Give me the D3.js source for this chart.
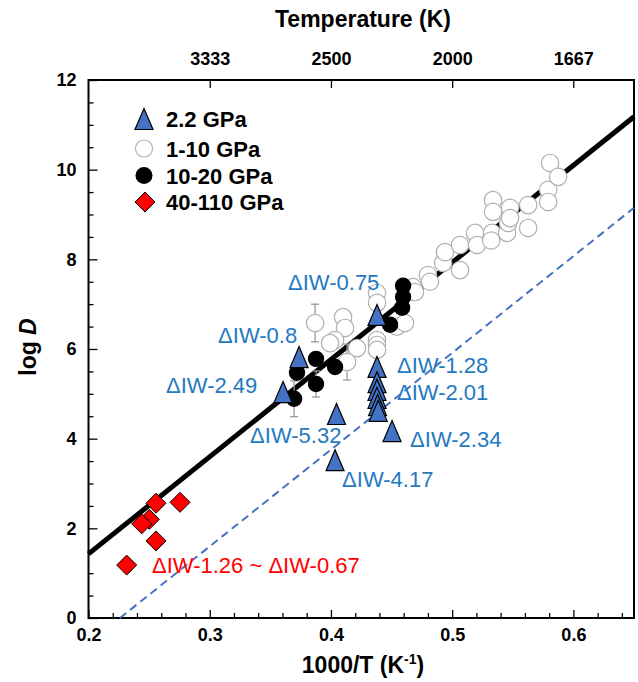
<!DOCTYPE html>
<html><head><meta charset="utf-8">
<script src="https://cdn.jsdelivr.net/npm/d3@7"></script>
<style>
body{margin:0;background:#fff}
svg{display:block}
text{font-family:Arial,"Liberation Sans",sans-serif}
</style>
</head><body>
<svg id="c" width="638" height="682"></svg>
<script>
// ---------- data ----------
const xTicks = [0.2, 0.3, 0.4, 0.5, 0.6];
const xTickLabels = ["0.2", "0.3", "0.4", "0.5", "0.6"];
const yTicks = [0, 2, 4, 6, 8, 10, 12];
const tempTicks = [3333, 2500, 2000, 1667];

// 40-110 GPa (red diamonds)
const redX = [0.2315, 0.2502, 0.2439, 0.2557, 0.2557, 0.2755];
const redY = [1.18, 2.20, 2.10, 2.56, 1.72, 2.58];

// 2.2 GPa (blue triangles)
const triX = [0.3605, 0.3737, 0.4046, 0.4034, 0.4380, 0.4380, 0.4380, 0.4380, 0.4380, 0.4385, 0.4390, 0.4504];
const triY = [5.04, 5.82, 4.55, 3.52, 6.76, 5.60, 5.26, 5.09, 4.91, 4.75, 4.62, 4.17];

// 10-20 GPa (black circles)
const blackX = [0.3696, 0.3720, 0.3877, 0.3877, 0.4034, 0.4488, 0.4587, 0.4595, 0.4595];
const blackY = [4.89, 5.47, 5.78, 5.22, 5.60, 6.54, 6.92, 7.16, 7.41];
const blackErr = [0.40, 0, 0, 0.29, 0, 0, 0, 0, 0];

// 1-10 GPa (open circles)
const openX = [0.3869, 0.4100, 0.4116, 0.4034, 0.4215, 0.4133, 0.3993,
  0.4380, 0.4380, 0.4380, 0.4380, 0.4380,
  0.4543, 0.4611, 0.4677, 0.4693, 0.4800, 0.4817, 0.4925, 0.4941,
  0.5065, 0.5065, 0.5189, 0.5205, 0.5329, 0.5322, 0.5453, 0.5461,
  0.5337, 0.5337, 0.5478, 0.5478, 0.5627, 0.5627, 0.5792, 0.5792, 0.5808, 0.5874];
const openY = [6.58, 6.71, 6.47, 6.20, 6.02, 5.71, 6.13,
  7.25, 7.03, 6.20, 6.09, 5.98,
  6.50, 6.58, 7.38, 7.27, 7.65, 7.50, 7.92, 8.16,
  8.32, 7.76, 8.59, 8.32, 8.59, 8.42, 8.59, 8.81,
  9.32, 9.06, 9.15, 8.92, 9.21, 8.70, 9.55, 9.28, 10.15, 9.84];
const openErr = [0.42, 0, 0, 0, 0, 0.40, 0,
  0, 0, 0, 0, 0,
  0, 0, 0, 0, 0, 0, 0, 0,
  0, 0, 0, 0, 0, 0, 0, 0,
  0, 0, 0, 0, 0, 0, 0, 0, 0, 0];

// fit lines (endpoints in data units)
const fitX = [0.2, 0.65], fitY = [1.43, 11.18];
const dashX = [0.226, 0.65], dashY = [0, 9.15];

// annotations: text, data x (start), data y (baseline)
const annText = ["ΔIW-0.75", "ΔIW-0.8", "ΔIW-2.49", "ΔIW-5.32", "ΔIW-4.17", "ΔIW-1.28", "ΔIW-2.01", "ΔIW-2.34"];
const annX = [0.3646, 0.3069, 0.2639, 0.3333, 0.4092, 0.4545, 0.4545, 0.4653];
const annY = [7.32, 6.13, 5.02, 3.90, 2.92, 5.47, 4.86, 3.81];
const redAnnText = "ΔIW-1.26 ~ ΔIW-0.67";
const redAnnX = 0.2524, redAnnY = 1.00;

const legendLabels = ["2.2 GPa", "1-10 GPa", "10-20 GPa", "40-110 GPa"];

// ---------- drawing ----------
const svg = d3.select("#c");
svg.append("rect").attr("width", 638).attr("height", 682).attr("fill", "#fff");

const L = 88.5, R = 634, T = 80, B = 618;
const x = d3.scaleLinear().domain([0.2, 0.65]).range([L, R]);
const y = d3.scaleLinear().domain([0, 12]).range([B, T]);

const BLUE = "#4472C4", LBLUE = "#2479C2";

// minor ticks
const xMinor = d3.range(0.2, 0.6501, 0.02).filter(v => Math.abs(v * 10 - Math.round(v * 10)) > 1e-6);
const yMinor = d3.range(0, 12.001, 0.5).filter(v => Math.abs(v / 2 - Math.round(v / 2)) > 1e-6);

svg.append("g").attr("transform", `translate(0,${B})`)
  .call(d3.axisBottom(x).tickValues(xTicks).tickFormat((d, i) => xTickLabels[i]).tickSize(-8).tickPadding(10));
svg.append("g").attr("transform", `translate(0,${B})`)
  .call(d3.axisBottom(x).tickValues(xMinor).tickFormat("").tickSize(-5));
svg.append("g").attr("transform", `translate(${L},0)`)
  .call(d3.axisLeft(y).tickValues(yTicks).tickFormat(d3.format("d")).tickSize(-9).tickPadding(12));
svg.append("g").attr("transform", `translate(${L},0)`)
  .call(d3.axisLeft(y).tickValues(yMinor).tickFormat("").tickSize(-5));
svg.append("g").attr("transform", `translate(0,${T})`)
  .call(d3.axisTop(x).tickValues(tempTicks.map(t => 1000 / t)).tickFormat((d, i) => String(tempTicks[i])).tickSize(-8).tickPadding(15));

svg.selectAll(".domain").remove();
svg.selectAll(".tick line").attr("stroke", "#000").attr("stroke-width", 1.3);
svg.selectAll(".tick text").attr("fill", "#000").style("font-size", "18px").style("font-weight", "bold")
  .style("font-family", 'Arial,"Liberation Sans",sans-serif');

// frame
svg.append("rect").attr("x", L).attr("y", T).attr("width", R - L).attr("height", B - T)
  .attr("fill", "none").attr("stroke", "#000").attr("stroke-width", 2);

// axis titles
svg.append("text").attr("x", 363).attr("y", 27).attr("text-anchor", "middle")
  .style("font-size", "23px").style("font-weight", "bold").text("Temperature (K)");
const xt = svg.append("text").attr("x", 363).attr("y", 673).attr("text-anchor", "middle")
  .style("font-size", "23px").style("font-weight", "bold");
xt.append("tspan").text("1000/T (K");
xt.append("tspan").attr("dy", -9).style("font-size", "14px").text("-1");
xt.append("tspan").attr("dy", 9).text(")");
const yt = svg.append("text").attr("transform", "translate(36,347) rotate(-90)").attr("text-anchor", "middle")
  .style("font-size", "23px").style("font-weight", "bold");
yt.append("tspan").text("log ");
yt.append("tspan").style("font-style", "italic").text("D");

// lines
const plot = svg.append("g");
const line = d3.line().x(d => x(d[0])).y(d => y(d[1]));
plot.append("path").attr("d", line(dashX.map((v, i) => [v, dashY[i]])))
  .attr("stroke", BLUE).attr("stroke-width", 2).attr("stroke-dasharray", "8,5").attr("fill", "none");
plot.append("path").attr("d", line(fitX.map((v, i) => [v, fitY[i]])))
  .attr("stroke", "#000").attr("stroke-width", 5).attr("fill", "none");

function errBars(xs, ys, es) {
  xs.forEach((xv, i) => {
    if (!es[i]) return;
    const cx = x(xv), y1 = y(ys[i] + es[i]), y2 = y(ys[i] - es[i]);
    plot.append("line").attr("x1", cx).attr("x2", cx).attr("y1", y1).attr("y2", y2).attr("stroke", "#999").attr("stroke-width", 1.3);
    [y1, y2].forEach(yy => plot.append("line").attr("x1", cx - 4).attr("x2", cx + 4).attr("y1", yy).attr("y2", yy).attr("stroke", "#999").attr("stroke-width", 1.3));
  });
}
errBars(openX, openY, openErr);
errBars(blackX, blackY, blackErr);

// open circles
plot.selectAll(".op").data(openX).enter().append("circle")
  .attr("cx", d => x(d)).attr("cy", (d, i) => y(openY[i])).attr("r", 8.7)
  .attr("fill", "#fff").attr("stroke", "#b0b0b0").attr("stroke-width", 1.2);
// black circles
plot.selectAll(".bk").data(blackX).enter().append("circle")
  .attr("cx", d => x(d)).attr("cy", (d, i) => y(blackY[i])).attr("r", 8.2)
  .attr("fill", "#000");
// triangles
const triPath = "M0,-10.5L9,10.5L-9,10.5Z";
plot.selectAll(".tr").data(triX).enter().append("path")
  .attr("d", triPath).attr("transform", (d, i) => `translate(${x(d)},${y(triY[i])})`)
  .attr("fill", BLUE).attr("stroke", "#000").attr("stroke-width", 1.2);
// diamonds
const diaPath = "M0,-10L10,0L0,10L-10,0Z";
plot.selectAll(".dm").data(redX).enter().append("path")
  .attr("d", diaPath).attr("transform", (d, i) => `translate(${x(d)},${y(redY[i])})`)
  .attr("fill", "#FF0000").attr("stroke", "#000").attr("stroke-width", 1);

// annotations
annText.forEach((t, i) => {
  svg.append("text").attr("x", x(annX[i])).attr("y", y(annY[i]))
    .attr("fill", LBLUE).style("font-size", "22px").text(t);
});
svg.append("text").attr("x", x(redAnnX)).attr("y", y(redAnnY))
  .attr("fill", "#FF0000").style("font-size", "22px").text(redAnnText);

// legend
const lg = svg.append("g");
const lgY = [119, 148.5, 175.5, 202];
const lgX = 144;
lg.append("path").attr("d", triPath).attr("transform", `translate(${lgX},${lgY[0]})`)
  .attr("fill", BLUE).attr("stroke", "#000").attr("stroke-width", 1.2);
lg.append("circle").attr("cx", lgX).attr("cy", lgY[1]).attr("r", 8.5)
  .attr("fill", "#fff").attr("stroke", "#b0b0b0").attr("stroke-width", 1.2);
lg.append("circle").attr("cx", lgX).attr("cy", lgY[2]).attr("r", 8.5).attr("fill", "#000");
lg.append("path").attr("d", diaPath).attr("transform", `translate(${lgX + 1},${lgY[3]})`)
  .attr("fill", "#FF0000").attr("stroke", "#000").attr("stroke-width", 1);
legendLabels.forEach((t, i) => {
  lg.append("text").attr("x", 166).attr("y", lgY[i] + 8).style("font-size", "22px")
    .style("font-weight", "bold").text(t);
});
</script>
</body></html>
